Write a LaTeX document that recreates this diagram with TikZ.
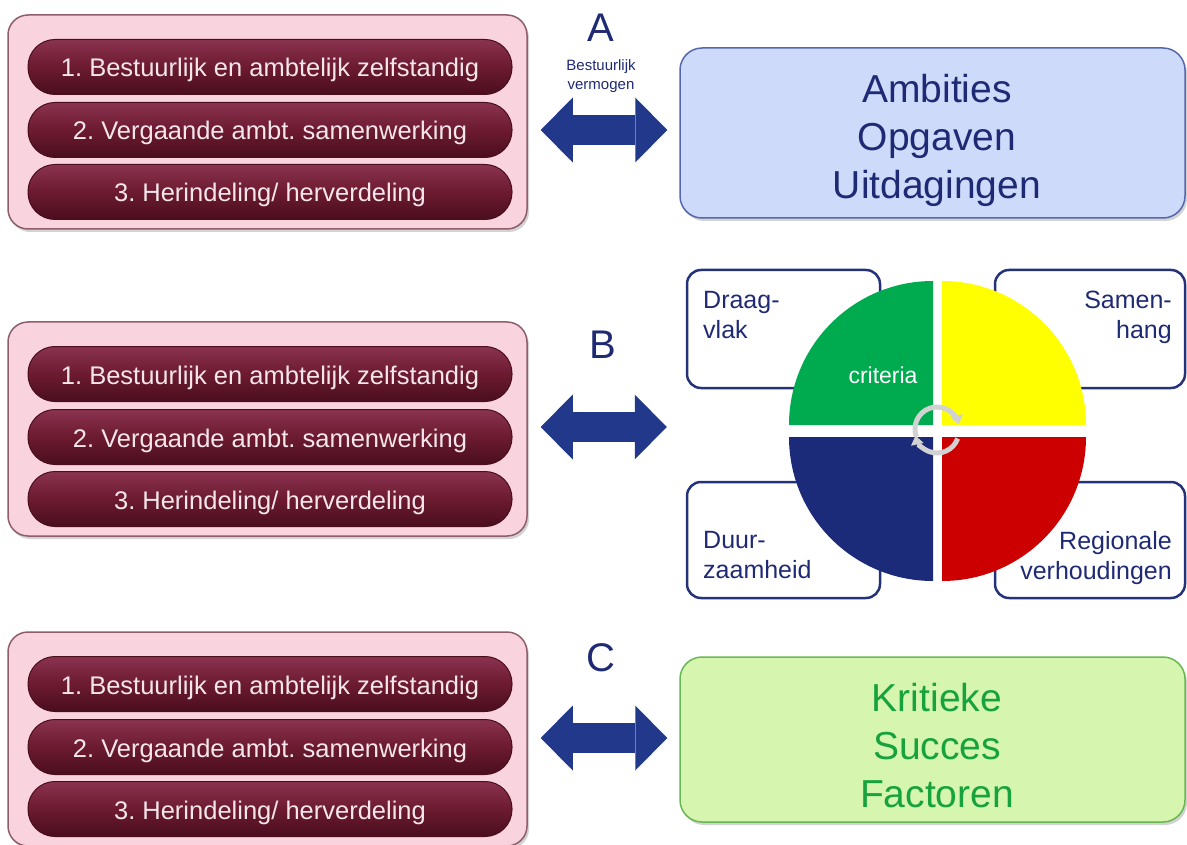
\documentclass[tikz,border=0pt]{standalone}
\usepackage{fontspec}
\setmainfont{Liberation Sans}
\frenchspacing
\usetikzlibrary{arrows.meta,shadows}

\definecolor{pinkfill}{HTML}{F9D3DD}
\definecolor{pinkline}{HTML}{8E5E6C}
\definecolor{maroonmid}{HTML}{6C1A30}
\definecolor{maroondark}{HTML}{4A0E1E}
\definecolor{maroonlight}{HTML}{8A3350}
\definecolor{bartext}{HTML}{F4E6EB}
\definecolor{arrowblue}{HTML}{22388A}
\definecolor{navy}{HTML}{1F2A74}
\definecolor{bluefill}{HTML}{CDDAFA}
\definecolor{blueline}{HTML}{5568AE}
\definecolor{greenfill}{HTML}{D6F5AF}
\definecolor{greenline}{HTML}{68B752}
\definecolor{greentext}{HTML}{16A23C}
\definecolor{critgreen}{HTML}{00AA4F}
\definecolor{crityellow}{HTML}{FFFF00}
\definecolor{critblue}{HTML}{1B2B7A}
\definecolor{critred}{HTML}{CC0000}
\definecolor{boxline}{HTML}{24327A}

\begin{document}
\begin{tikzpicture}[x=1pt,y=-1pt]
  \tikzset{
    panel/.style={draw=pinkline, line width=1.5pt, fill=pinkfill,
      rounded corners=20pt, minimum width=519pt, minimum height=214pt,
      inner sep=0pt,
      drop shadow={shadow xshift=2pt, shadow yshift=-3pt, opacity=0.35}},
    bar/.style={draw=maroondark, line width=1pt, rounded corners=27pt,
      top color=maroonlight, bottom color=maroondark, middle color=maroonmid,
      minimum width=484pt, minimum height=55pt, inner sep=0pt,
      text height=25pt, text depth=5pt,
      text=bartext, font=\fontsize{25.5}{30}\selectfont},
    letter/.style={text=navy, font=\fontsize{40}{44}\selectfont, inner sep=0pt},
    goalbox/.style={line width=1.5pt, rounded corners=22pt,
      minimum width=505pt, inner sep=0pt,
      drop shadow={shadow xshift=2pt, shadow yshift=-3pt, opacity=0.35}},
    goaltext/.style={align=center, inner sep=0pt,
      font=\fontsize{39}{48}\selectfont},
    dblarrow/.style={line width=30pt, draw=arrowblue,
      {Triangle[length=32pt,width=65pt,line width=0pt]}-{Triangle[length=32pt,width=65pt,line width=0pt]},
      shorten <=13pt},
    critbox/.style={draw=boxline, line width=2.5pt, rounded corners=14pt,
      minimum width=193pt, minimum height=118pt, inner sep=0pt},
    crittext/.style={text=navy, inner sep=0pt, font=\fontsize{25}{30}\selectfont},
    turn/.style={draw=gray!35, line width=5pt,
      -{Triangle[length=9pt,width=13pt,line width=0pt]}}
  }
  \useasboundingbox (0,0) rectangle (1187,845);

  %% Left panels, each with the same three options
  \foreach \name/\top/\arrowy in {A/15/130, B/322/427, C/632/738} {
    \node[panel] (panel\name) at (267.5,\top+107) {};
    \node[bar] (bar\name1) at (270,\top+52) {1. Bestuurlijk en ambtelijk zelfstandig};
    \node[bar] (bar\name2) at (270,\top+115) {2. Vergaande ambt. samenwerking};
    \node[bar] (bar\name3) at (270,\top+177) {3. Herindeling/ herverdeling};
    \coordinate (arrow\name) at (604,\arrowy);
  }

  %% Letters above the arrows
  \node[letter] (letterA) at (601,28) {A};
  \node[letter] (letterB) at (603,345) {B};
  \node[letter] (letterC) at (601,658) {C};
  \node[text=navy, align=center, inner sep=0pt,
    font=\fontsize{15}{19}\selectfont] (vermogen) at (601,76)
    {Bestuurlijk\\vermogen};

  %% Right side: A and C
  \node[goalbox, fill=bluefill, draw=blueline, minimum height=170pt]
    (ambities) at (932.5,133) {};
  \node[goaltext, text=navy] (ambitiestext) at (937,140)
    {Ambities\\Opgaven\\Uitdagingen};
  \node[goalbox, fill=greenfill, draw=greenline, minimum height=165pt]
    (succes) at (932.5,739.5) {};
  \node[goaltext, text=greentext] (successtext) at (937,746)
    {Kritieke\\Succes\\Factoren};

  %% Right side: B, four boxes round the wheel
  \node[critbox] (draagvlak) at (783.5,329) {};
  \node[critbox, minimum width=190pt] (samenhang) at (1090,329) {};
  \node[critbox, minimum height=116pt] (duurzaamheid) at (783.5,540) {};
  \node[critbox, minimum width=190pt, minimum height=116pt] (regionaal) at (1090,540) {};
  \node[crittext, anchor=north west, align=left] (draagvlaktext)
    at (703,291) {Draag-\\vlak};
  \node[crittext, anchor=north east, align=right] (samenhangtext)
    at (1172,291) {Samen-\\hang};
  \node[crittext, anchor=north west, align=left] (duurzaamheidtext)
    at (703,531) {Duur-\\zaamheid};
  \node[crittext, anchor=north east, align=right] (regionaaltext)
    at (1172,531) {Regionale\\verhoudingen};

  %% The wheel, four quarters with a small gap between them
  \foreach \col/\cx/\cy/\a in {critgreen/933/425/90, crityellow/942/425/0,
    critblue/933/437/180, critred/942/437/270} {
    \fill[\col] (\cx,\cy) -- ++(\a:144pt)
      arc[start angle=\a, delta angle=90, radius=144pt] -- cycle;
  }
  \node[text=white, inner sep=0pt, font=\fontsize{23}{26}\selectfont]
    (criteria) at (883,375) {criteria};
  \draw[turn] (937,429) ++(200:22pt) arc[start angle=200, end angle=12, radius=22pt];
  \draw[turn] (937,431) ++(-20:22pt) arc[start angle=-20, end angle=-168, radius=22pt];

  %% Double arrows between left and right
  \draw[dblarrow, shorten >=12pt] (panelA.east |- arrowA) -- (ambities.west |- arrowA);
  \draw[dblarrow, shorten >=19pt] (panelB.east |- arrowB) -- (draagvlak.west |- arrowB);
  \draw[dblarrow, shorten >=12pt] (panelC.east |- arrowC) -- (succes.west |- arrowC);
\end{tikzpicture}
\end{document}
